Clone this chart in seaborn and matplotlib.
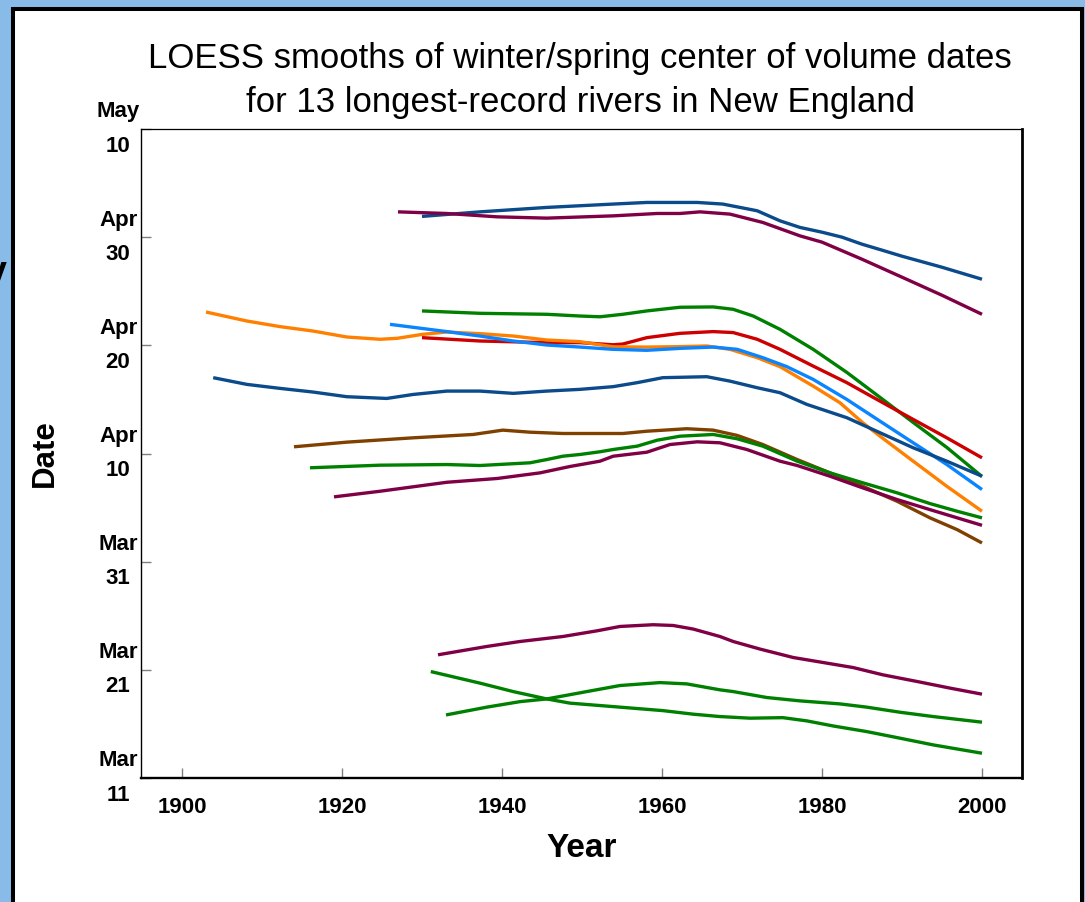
import matplotlib
matplotlib.use("Agg")
import matplotlib.pyplot as plt
import seaborn as sns
import pandas as pd
from matplotlib.patches import Rectangle

# ---------------- data (y = days after March 11) ----------------
yrs_01 = [1930, 1937.25, 1945.6, 1953.9, 1958.1, 1964.4, 1967.6, 1971.9, 1974.75, 1977.25, 1980, 1982.5, 1985, 1987.5, 1990, 1995, 2000]
day_01 = [51.92, 52.34, 52.75, 53.06, 53.21, 53.21, 53.06, 52.44, 51.51, 50.90, 50.46, 50.0, 49.35, 48.80, 48.24, 47.22, 46.11]

yrs_02 = [1927, 1933.1, 1939.4, 1945.6, 1953.9, 1959.4, 1962.25, 1964.75, 1968.5, 1972.6, 1977.25, 1980, 1985, 1990, 1995, 2000]
day_02 = [52.34, 52.19, 51.88, 51.76, 51.97, 52.19, 52.19, 52.34, 52.13, 51.36, 50.12, 49.54, 47.96, 46.30, 44.63, 42.87]

yrs_03 = [1930, 1937.25, 1945.6, 1949.75, 1952.25, 1955.1, 1958.1, 1962.25, 1966.4, 1968.9, 1971.4, 1974.75, 1978.9, 1983.1, 1987.25, 1991.4, 1995.6, 2000]
day_03 = [43.18, 42.96, 42.87, 42.71, 42.64, 42.87, 43.18, 43.52, 43.55, 43.33, 42.71, 41.48, 39.63, 37.50, 35.19, 32.87, 30.56, 27.87]

yrs_04 = [1930, 1937.25, 1945.6, 1949.75, 1953.9, 1955.1, 1958.1, 1962.25, 1966.4, 1968.9, 1971.9, 1974.75, 1978.9, 1983.1, 1987.25, 1991.4, 1995.6, 2000]
day_04 = [40.71, 40.40, 40.25, 40.25, 40.05, 40.12, 40.71, 41.11, 41.27, 41.18, 40.56, 39.63, 38.08, 36.55, 34.84, 33.15, 31.45, 29.60]

yrs_05 = [1903, 1908.1, 1912.25, 1916.4, 1920.6, 1924.75, 1926.9, 1930.1, 1933.1, 1937.25, 1941.4, 1945.6, 1949.75, 1953.9, 1958.1, 1962.25, 1965.6, 1968.5, 1971.9, 1974.75, 1978.9, 1982.25, 1985.1, 1987.25, 1991.4, 1995.6, 2000]
day_05 = [43.08, 42.25, 41.73, 41.32, 40.77, 40.56, 40.65, 41.02, 41.23, 41.08, 40.86, 40.49, 40.34, 39.86, 39.84, 39.88, 39.94, 39.63, 38.86, 38.03, 36.23, 34.69, 32.84, 31.60, 29.29, 26.97, 24.66]

yrs_06 = [1926, 1933.1, 1937.25, 1941.4, 1945.6, 1949.75, 1953.9, 1958.1, 1962.25, 1966.4, 1969.4, 1972.6, 1975.6, 1978.9, 1983.1, 1987.25, 1991.4, 1995.6, 2000]
day_06 = [41.94, 41.27, 40.86, 40.40, 40.03, 39.84, 39.63, 39.54, 39.72, 39.84, 39.63, 38.86, 38.03, 36.85, 35.00, 32.99, 30.99, 28.98, 26.67]

yrs_07 = [1903.9, 1908.1, 1912.25, 1916.4, 1920.6, 1925.6, 1928.9, 1933.1, 1937.25, 1941.4, 1945.6, 1949.75, 1953.9, 1956.9, 1960.1, 1965.6, 1968.5, 1971.9, 1974.75, 1978.1, 1983.1, 1987.25, 1991.4, 1995.6, 2000]
day_07 = [37.01, 36.39, 36.02, 35.68, 35.25, 35.09, 35.46, 35.77, 35.77, 35.56, 35.77, 35.93, 36.18, 36.55, 37.01, 37.10, 36.69, 36.08, 35.62, 34.54, 33.31, 31.92, 30.53, 29.29, 27.90]

yrs_08 = [1914, 1920.6, 1928.9, 1936.4, 1940.1, 1943.5, 1947.6, 1952.25, 1955.1, 1958.1, 1963.1, 1966.4, 1969.4, 1972.6, 1976.9, 1981, 1985.1, 1989.4, 1993.5, 1996.9, 2000]
day_08 = [30.62, 31.05, 31.45, 31.76, 32.16, 31.97, 31.85, 31.85, 31.85, 32.06, 32.29, 32.16, 31.67, 30.83, 29.44, 28.21, 26.97, 25.58, 24.05, 22.96, 21.73]

yrs_09 = [1916, 1924.75, 1933.1, 1937.25, 1943.5, 1945.6, 1947.6, 1949.75, 1952.25, 1953.9, 1956.9, 1959.4, 1962.25, 1966.4, 1969.4, 1972.6, 1976.9, 1981, 1985.1, 1989.4, 1993.5, 1996.9, 2000]
day_09 = [28.68, 28.92, 28.98, 28.89, 29.14, 29.44, 29.75, 29.91, 30.16, 30.37, 30.68, 31.23, 31.60, 31.76, 31.36, 30.68, 29.29, 28.21, 27.29, 26.36, 25.37, 24.66, 24.05]

yrs_10 = [1919, 1924.75, 1933.1, 1939.4, 1944.75, 1948.5, 1952.25, 1953.9, 1958.1, 1961, 1964.4, 1967.25, 1970.6, 1974.75, 1976.9, 1981, 1985.1, 1989.4, 1993.5, 2000]
day_10 = [25.99, 26.51, 27.34, 27.69, 28.21, 28.80, 29.29, 29.75, 30.12, 30.83, 31.08, 30.99, 30.37, 29.29, 28.89, 27.90, 26.82, 25.74, 24.81, 23.36]

yrs_11 = [1932, 1938.1, 1942.25, 1947.6, 1951.9, 1954.75, 1958.9, 1961.4, 1963.9, 1967.25, 1968.9, 1972.25, 1976.4, 1980.6, 1983.9, 1987.6, 1991.9, 1996, 2000]
day_11 = [11.39, 12.16, 12.62, 13.08, 13.61, 14.01, 14.17, 14.10, 13.77, 13.08, 12.62, 11.92, 11.14, 10.62, 10.21, 9.54, 8.92, 8.31, 7.75]

yrs_12 = [1931.1, 1937.25, 1941.4, 1945.6, 1948.5, 1954.75, 1960.1, 1963.9, 1967.25, 1971, 1975.1, 1978.1, 1981.4, 1985.6, 1989.75, 1993.9, 2000]
day_12 = [9.84, 8.77, 7.99, 7.31, 6.92, 6.55, 6.23, 5.90, 5.68, 5.53, 5.58, 5.28, 4.81, 4.29, 3.68, 3.06, 2.29]

yrs_13 = [1933, 1938.1, 1942.25, 1945.6, 1950.6, 1954.75, 1959.75, 1963.1, 1967.25, 1968.9, 1973.1, 1977.25, 1982.25, 1985.6, 1989.75, 1993.9, 2000]
day_13 = [5.83, 6.55, 7.06, 7.31, 7.99, 8.55, 8.82, 8.70, 8.15, 7.99, 7.44, 7.13, 6.85, 6.55, 6.08, 5.68, 5.16]

river_names = [f"River {i}" for i in range(1, 14)]
river_colors = ["#0b4a8b", "#800046", "#008000", "#cc0000", "#ff8000", "#0a84ff", "#0b4a8b",
                "#804000", "#008000", "#800046", "#800046", "#008000", "#008000"]

ytick_vals = [0, 10, 20, 30, 40, 50, 60]
ytick_labels = ["Mar\n11", "Mar\n21", "Mar\n31", "Apr\n10", "Apr\n20", "Apr\n30", "May\n10"]
xtick_vals = [1900, 1920, 1940, 1960, 1980, 2000]

title_line1 = "LOESS smooths of winter/spring center of volume dates"
title_line2 = "for 13 longest-record rivers in New England"

all_yrs = [yrs_01, yrs_02, yrs_03, yrs_04, yrs_05, yrs_06, yrs_07, yrs_08, yrs_09, yrs_10, yrs_11, yrs_12, yrs_13]
all_day = [day_01, day_02, day_03, day_04, day_05, day_06, day_07, day_08, day_09, day_10, day_11, day_12, day_13]

rows = []
for name, ys, ds in zip(river_names, all_yrs, all_day):
    for y, d in zip(ys, ds):
        rows.append({"river": name, "year": y, "day": d})
df = pd.DataFrame(rows)

# ---------------- figure ----------------
sns.set_theme(style="white")
plt.rcParams["font.family"] = ["Liberation Sans", "DejaVu Sans"]
plt.rcParams["text.color"] = "black"
plt.rcParams["axes.labelcolor"] = "black"
plt.rcParams["xtick.color"] = "black"
plt.rcParams["ytick.color"] = "black"

fig = plt.figure(figsize=(10.85, 9.02), dpi=100)
fig.patch.set_facecolor("#89bbe8")
panel = Rectangle((13 / 1085, -0.02), (1082 - 13) / 1085, 1.02 - 9 / 902,
                  transform=fig.transFigure, facecolor="white", edgecolor="black",
                  linewidth=2.9, zorder=-5)
fig.patches.append(panel)

ax = fig.add_axes([141 / 1085, 1 - 778 / 902, (1022 - 141) / 1085, (778 - 129) / 902])
ax.set_zorder(2)
ax.set_facecolor("white")

sns.lineplot(data=df, x="year", y="day", hue="river", hue_order=river_names,
             palette=dict(zip(river_names, river_colors)), estimator=None,
             legend=False, ax=ax, linewidth=2.4, solid_capstyle="butt")

ax.set_xlim(1894.875, 2005.0)
ax.set_ylim(0, 60)

ax.set_xticks(xtick_vals, [str(v) for v in xtick_vals])
ax.set_yticks(ytick_vals, ytick_labels)
ax.tick_params(axis="x", direction="in", length=7.5, width=1, color="#808080",
               labelcolor="black", labelsize=16, pad=13.5, bottom=True, top=False)
ax.tick_params(axis="y", direction="in", length=7.5, width=1, color="#808080",
               labelcolor="black", labelsize=16, pad=16.5, left=True, right=False)
for lab in ax.get_xticklabels():
    lab.set_fontweight("bold")
for lab in ax.get_yticklabels():
    lab.set_fontweight("bold")
    lab.set_horizontalalignment("center")
    lab.set_verticalalignment("center")
    lab.set_multialignment("center")
    lab.set_linespacing(1.83)

for side, lw in [("left", 1.0), ("bottom", 1.7), ("right", 2.0), ("top", 0.9)]:
    ax.spines[side].set_visible(True)
    ax.spines[side].set_color("black")
    ax.spines[side].set_linewidth(lw)

ax.set_xlabel("Year", fontsize=24, fontweight="bold", va="top", color="black")
ax.xaxis.set_label_coords(0.5, -0.0847)
ax.set_ylabel("Date", fontsize=22.5, fontweight="bold", color="black")
ax.yaxis.set_label_coords(-0.0925, 0.5)

fig.text(580 / 1085, 1 - 68 / 902, title_line1, ha="center", va="baseline", fontsize=25, color="black")
fig.text(580 / 1085, 1 - 112 / 902, title_line2, ha="center", va="baseline", fontsize=25, color="black")

# partial glyph of slide text at the left edge (cut off in the reference too)
fig.text(7 / 1085, 1 - 283 / 902, "y", ha="right", va="baseline", fontsize=27,
         fontweight="bold", color="black")

fig.savefig("out.png", dpi=100, facecolor=fig.get_facecolor())
